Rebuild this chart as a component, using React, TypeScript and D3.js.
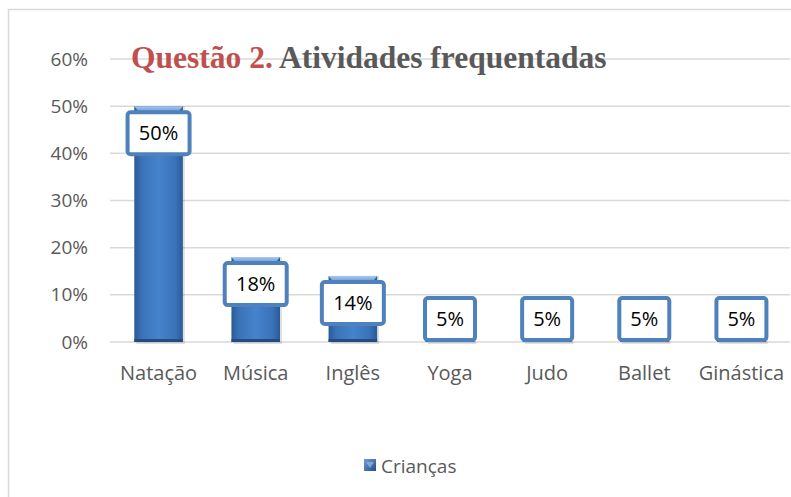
import React from 'react'
import * as d3 from 'd3'

const categories = ['Natação', 'Música', 'Inglês', 'Yoga', 'Judo', 'Ballet', 'Ginástica']
const criancas = [0.5, 0.18, 0.14, 0.05, 0.05, 0.05, 0.05]
const yTicks = [0, 0.1, 0.2, 0.3, 0.4, 0.5, 0.6]
const seriesName = 'Crianças'

const W = 791
const H = 497
const plot = { left: 110, right: 790, top: 59, bottom: 342 }
const axisFont = "'Open Sans', 'Liberation Sans', sans-serif"

export default function App() {
  const x = d3
    .scaleBand<string>()
    .domain(categories)
    .range([plot.left, plot.right])
    .paddingInner(0.5)
    .paddingOuter(0.25)
  const y = d3.scaleLinear().domain([0, 0.6]).range([plot.bottom, plot.top])
  const fmt = d3.format('.0%')
  const bw = x.bandwidth()

  return (
    <svg
      width={W}
      height={H}
      style={{ position: 'absolute', left: 0, top: 0, background: '#fff' }}
    >
      <defs>
        <linearGradient id="barGrad" x1="0" x2="1" y1="0" y2="0">
          <stop offset="0" stopColor="#2b5a95" />
          <stop offset="0.15" stopColor="#3a72b8" />
          <stop offset="0.5" stopColor="#4583cc" />
          <stop offset="0.85" stopColor="#3a72b8" />
          <stop offset="1" stopColor="#2b5a95" />
        </linearGradient>
        <linearGradient id="capGrad" x1="0" x2="0" y1="0" y2="1">
          <stop offset="0" stopColor="#a9c8ec" />
          <stop offset="1" stopColor="#6f9fdb" />
        </linearGradient>
        <linearGradient id="legGrad" x1="0" x2="1" y1="0" y2="1">
          <stop offset="0" stopColor="#6f9fdb" />
          <stop offset="1" stopColor="#234d82" />
        </linearGradient>
      </defs>

      {/* chart frame */}
      <rect x={8.5} y={9.5} width={W} height={H} fill="none" stroke="#d9d9d9" strokeWidth={1.5} />

      {/* grid + y labels */}
      {yTicks.map((t) => (
        <g key={t}>
          <line x1={plot.left} x2={plot.right} y1={y(t)} y2={y(t)} stroke="#d9d9d9" strokeWidth={1.5} />
          <text
            x={88}
            y={y(t)}
            dy="0.35em"
            textAnchor="end"
            fontFamily={axisFont}
            fontSize={19}
            fill="#595959"
          >
            {fmt(t)}
          </text>
        </g>
      ))}

      {/* bars */}
      {categories.map((c, i) => {
        const x0 = x(c) as number
        const top = y(criancas[i])
        return (
          <g key={c}>
            <rect x={x0 + 2} y={top} width={bw} height={plot.bottom - top + 2} fill="#000" opacity={0.12} />
            <rect x={x0} y={top} width={bw} height={plot.bottom - top} fill="url(#barGrad)" />
            <path
              d={`M${x0},${top} L${x0 + bw},${top} L${x0 + bw - 4},${top + 5} L${x0 + 4},${top + 5} Z`}
              fill="url(#capGrad)"
            />
            <rect x={x0} y={plot.bottom - 3} width={bw} height={3} fill="#234d82" />
          </g>
        )
      })}

      {/* data labels */}
      {categories.map((c, i) => {
        const cx = (x(c) as number) + bw / 2
        const label = fmt(criancas[i])
        const bwid = label.length > 2 ? 62 : 50
        const bh = 42
        const cy = Math.min(y(criancas[i]) + 27, plot.bottom - bh / 2 - 2)
        return (
          <g key={c}>
            <rect
              x={cx - bwid / 2}
              y={cy - bh / 2}
              width={bwid}
              height={bh}
              rx={3}
              fill="#fff"
              stroke="#4f81bd"
              strokeWidth={4}
            />
            <text x={cx} y={cy} dy="0.36em" textAnchor="middle" fontFamily={axisFont} fontSize={20} fill="#000">
              {label}
            </text>
          </g>
        )
      })}

      {/* x labels */}
      {categories.map((c) => (
        <text
          key={c}
          x={(x(c) as number) + bw / 2}
          y={380}
          textAnchor="middle"
          fontFamily={axisFont}
          fontSize={20}
          fill="#595959"
        >
          {c}
        </text>
      ))}

      {/* title */}
      <text x={131} y={68} fontFamily="'Liberation Serif', 'Times New Roman', serif" fontWeight="bold" fontSize={31.5}>
        <tspan fill="#c0504d">Questão 2. </tspan>
        <tspan fill="#595959">Atividades frequentadas</tspan>
      </text>

      {/* legend */}
      <rect x={364} y={459} width={12} height={12} fill="url(#legGrad)" />
      <path d="M366,462 L374,462 L370,468 Z" fill="#8db3e2" opacity={0.8} />
      <text x={381} y={473} fontFamily={axisFont} fontSize={19} fill="#595959">
        {seriesName}
      </text>
    </svg>
  )
}
